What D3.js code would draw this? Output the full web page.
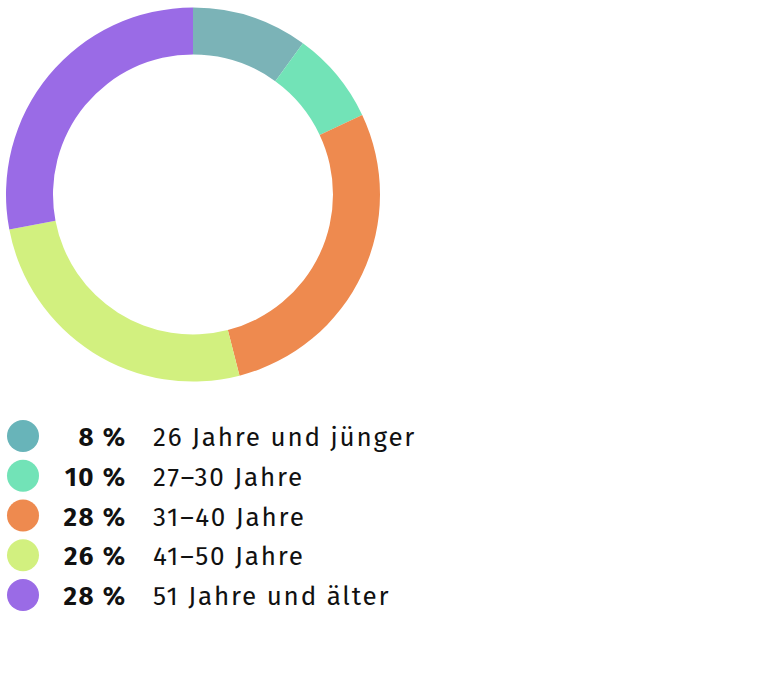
<!DOCTYPE html>
<html><head><meta charset="utf-8">
<script src="https://cdn.jsdelivr.net/npm/d3@7"></script>
<style>body{margin:0;background:#fff}svg{display:block}</style>
</head><body>
<svg id="c" width="768" height="674"></svg>
<script>
const categories = ["26 Jahre und jünger", "27–30 Jahre", "31–40 Jahre", "41–50 Jahre", "51 Jahre und älter"];
const sliceValues = [10, 8, 28, 26, 28];
const legendPercents = ["8 %", "10 %", "28 %", "26 %", "28 %"];
const sliceColors = ["#7bb3b7", "#72e3b7", "#ee8a4f", "#d2f07f", "#9a6be6"];
const legendColors = ["#68b4b9", "#72e3b7", "#ee8a4f", "#d2f07f", "#9a6be6"];

const svg = d3.select("#c");
const cx = 193, cy = 194.5, rOuter = 187, rInner = 140;
const pie = d3.pie().sort(null).value(d => d)(sliceValues);
const arc = d3.arc().innerRadius(rInner).outerRadius(rOuter);
svg.append("g").attr("transform", `translate(${cx},${cy})`)
  .selectAll("path").data(pie).join("path")
  .attr("d", arc).attr("fill", (d, i) => sliceColors[i]);

const y = d3.scalePoint().domain(d3.range(categories.length)).range([436, 595]);
const font = "'Fira Sans','Noto Sans','Open Sans',sans-serif";
const rows = svg.append("g").selectAll("g").data(categories).join("g")
  .attr("transform", (d, i) => `translate(0,${y(i)})`);
rows.append("circle").attr("cx", 23).attr("cy", 0).attr("r", 16).attr("fill", (d, i) => legendColors[i]);
rows.append("text").attr("x", 126.5).attr("y", 10).attr("text-anchor", "end")
  .attr("font-family", font).attr("font-weight", "bold").attr("font-size", 26)
  .attr("letter-spacing", 1.5).attr("fill", "#111")
  .text((d, i) => legendPercents[i]);
rows.append("text").attr("x", 153).attr("y", 10)
  .attr("font-family", font).attr("font-size", 26).attr("letter-spacing", 1.8).attr("fill", "#111")
  .text(d => d);
</script>
</body></html>
